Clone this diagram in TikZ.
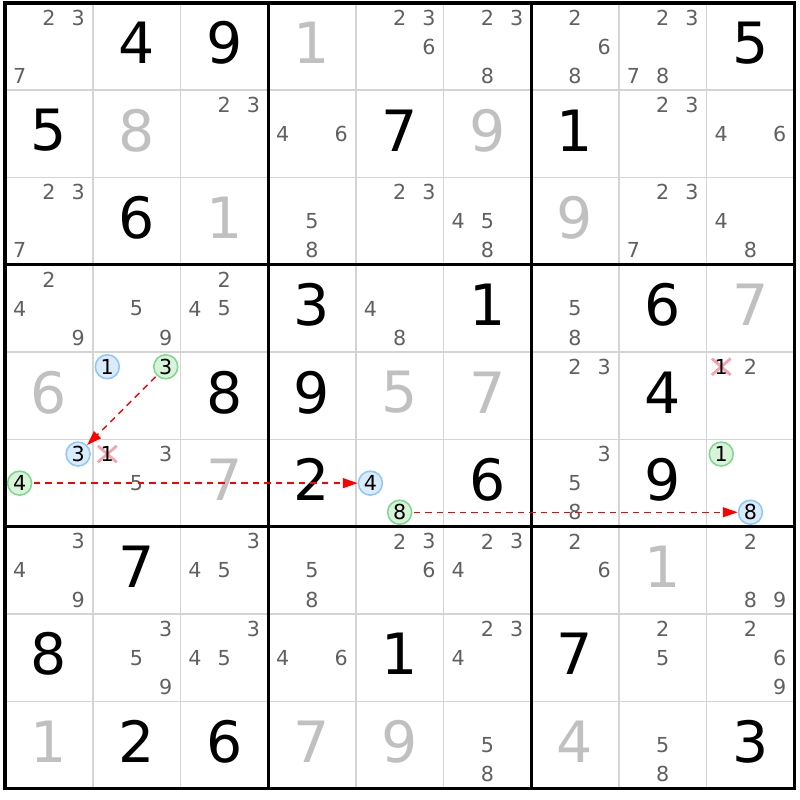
\documentclass[tikz,border=0pt]{standalone}
\usepackage{fontspec}
\usepackage{tikz}
\usetikzlibrary{arrows.meta, shapes.misc}

\newfontfamily\gridfont{DejaVu Sans}
\definecolor{candgray}{HTML}{606060}
\definecolor{solvedgray}{HTML}{C0C0C0}
\definecolor{linegray}{HTML}{D4D4D4}
\definecolor{ringblue}{HTML}{8EC8F8}
\definecolor{fillblue}{HTML}{DAEBFB}
\definecolor{ringgreen}{HTML}{7ED88E}
\definecolor{fillgreen}{HTML}{D8F3DA}
\definecolor{crossred}{HTML}{F4A4AC}

\tikzset{
    given/.style={font=\gridfont\fontsize{40.5}{40.5}\selectfont, text=black, inner sep=0pt, yshift=2.5pt},
    solved/.style={given, text=solvedgray},
    cand/.style={font=\gridfont\fontsize{14.7}{14.7}\selectfont, text=candgray, inner sep=0pt},
    bluecand/.style={cand, text=black, circle, draw=ringblue, fill=fillblue, line width=1.1pt, minimum size=0.6cm},
    greencand/.style={bluecand, draw=ringgreen, fill=fillgreen},
    crossed/.style={cross out, draw=crossred, line width=2pt, minimum width=0.4cm, minimum height=0.34cm, inner sep=0pt},
    link/.style={-{Triangle[length=10.5pt, width=7pt]}, red, line width=1pt, dash pattern=on 4.6pt off 3.6pt, shorten <=1pt}
}

\begin{document}
\begin{tikzpicture}[x=2.1925cm, y=-2.1825cm]
    \useasboundingbox (-0.057, -0.0344) rectangle (9.065, 9.129);

    % cell lines, then box lines
    \foreach \i in {1,...,8} {
        \draw[linegray, line width=1.2pt] (\i, 0) -- (\i, 9);
        \draw[linegray, line width=1.2pt] (0, \i) -- (9, \i);
    }
    \foreach \i in {3,6} {
        \draw[line width=2.2pt] (\i, 0) -- (\i, 9);
        \draw[line width=2.2pt] (0, \i) -- (9, \i);
    }
    \draw[line width=2.2pt] (0, 0) rectangle (9, 9);

    % givens and solved cells
    \foreach \r/\c/\d in {1/2/4, 1/3/9, 1/9/5, 2/1/5, 2/5/7, 2/7/1, 3/2/6,
        4/4/3, 4/6/1, 4/8/6, 5/3/8, 5/4/9, 5/8/4, 6/4/2, 6/6/6, 6/8/9,
        7/2/7, 8/1/8, 8/5/1, 8/7/7, 9/2/2, 9/3/6, 9/9/3}
        \node[given] (d\r\c) at (\c-0.5, \r-0.5) {\d};
    \foreach \r/\c/\d in {1/4/1, 2/2/8, 2/6/9, 3/3/1, 3/7/9, 4/9/7, 5/1/6,
        5/5/5, 5/6/7, 6/3/7, 7/8/1, 9/1/1, 9/4/7, 9/5/9, 9/7/4}
        \node[solved] (d\r\c) at (\c-0.5, \r-0.5) {\d};

    % candidates
    \foreach \r/\c/\list in {1/1/{2,3,7}, 1/5/{2,3,6}, 1/6/{2,3,8}, 1/7/{2,6,8}, 1/8/{2,3,7,8},
        2/3/{2,3}, 2/4/{4,6}, 2/8/{2,3}, 2/9/{4,6},
        3/1/{2,3,7}, 3/4/{5,8}, 3/5/{2,3}, 3/6/{4,5,8}, 3/8/{2,3,7}, 3/9/{4,8},
        4/1/{2,4,9}, 4/2/{5,9}, 4/3/{2,4,5}, 4/5/{4,8}, 4/7/{5,8},
        5/7/{2,3}, 5/9/{2}, 6/2/{3,5}, 6/7/{3,5,8},
        7/1/{3,4,9}, 7/3/{3,4,5}, 7/4/{5,8}, 7/5/{2,3,6}, 7/6/{2,3,4}, 7/7/{2,6}, 7/9/{2,8,9},
        8/2/{3,5,9}, 8/3/{3,4,5}, 8/4/{4,6}, 8/6/{2,3,4}, 8/8/{2,5}, 8/9/{2,6,9},
        9/6/{5,8}, 9/8/{5,8}}
        \foreach \n in \list
            \node[cand] (n\r\c\n) at ({\c-1+(2*mod(\n-1,3)+1)/6}, {\r-1+(2*int((\n-1)/3)+1)/6}) {\n};

    % marked candidates
    \node[crossed] (x62) at (1.1667, 5.1667) {};
    \node[cand, text=black] (n621) at (1.1667, 5.1667) {1};
    \node[crossed] (x59) at (8.1667, 4.1667) {};
    \node[cand, text=black] (n591) at (8.1667, 4.1667) {1};

    \node[bluecand] (b1) at (1.1667, 4.1667) {1};
    \node[greencand] (g3) at (1.8333, 4.1667) {3};
    \node[bluecand] (b3) at (0.8333, 5.1667) {3};
    \node[greencand] (g4) at (0.1667, 5.5) {4};
    \node[bluecand] (b4) at (4.1667, 5.5) {4};
    \node[greencand] (g8) at (4.5, 5.8333) {8};
    \node[greencand] (g1) at (8.1667, 5.1667) {1};
    \node[bluecand] (b8) at (8.5, 5.8333) {8};

    \draw[link] (g3) -- (b3);
    \draw[link] (g4) -- (b4);
    \draw[link] (g8) -- (b8);
\end{tikzpicture}
\end{document}
